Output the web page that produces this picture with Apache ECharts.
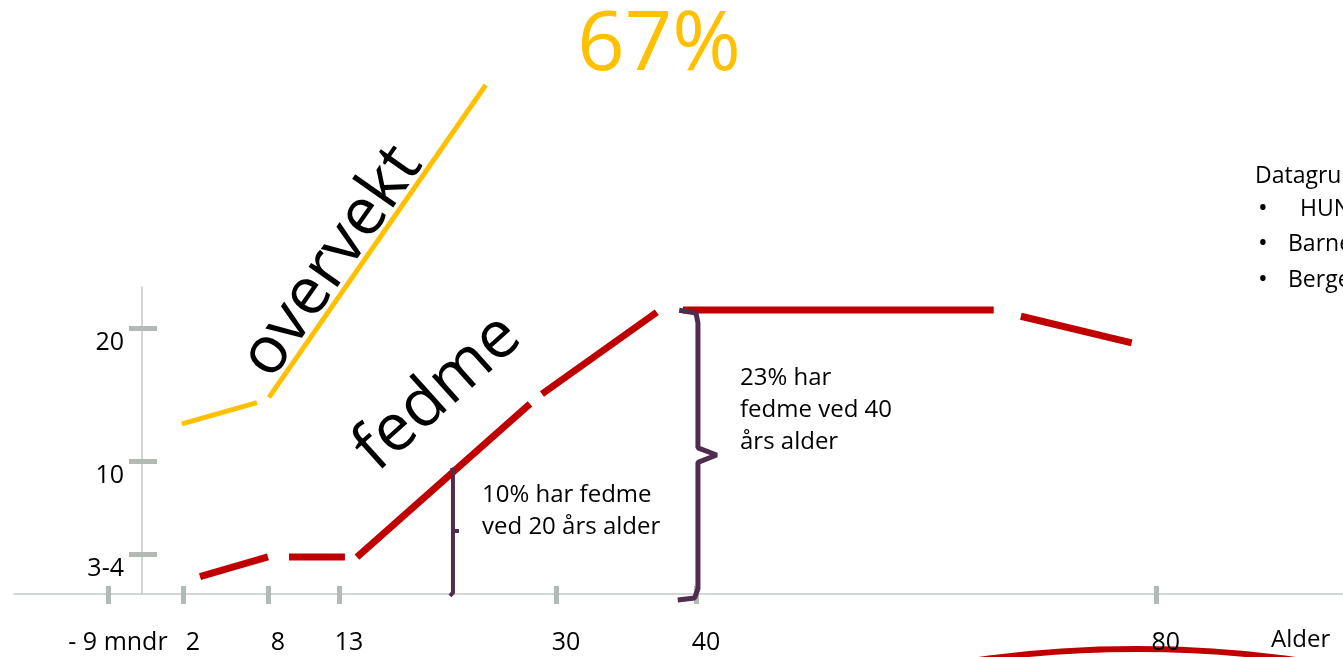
<!DOCTYPE html>
<html>
<head>
<meta charset="utf-8">
<script src="https://cdn.jsdelivr.net/npm/echarts@6/dist/echarts.min.js"></script>
<style>
  html, body { margin: 0; padding: 0; background: #fff; }
  #chart { width: 1343px; height: 657px; }
</style>
</head>
<body>
<div id="chart"></div>
<script>
// bottom axis: ages and their labels (the drawn axis is not linear in age)
const tickAges = [-0.75, 2, 8, 13, 30, 40, 80];
const tickLabels = ["- 9 mndr", "2", "8", "13", "30", "40", "80"];
// left axis: percent
const yTickValues = [3, 10, 20];
const yTickLabels = ["3-4", "10", "20"];

// [age, percent], null = gap in the line
const overvekt = [[1.95, 12.8], [7.22, 14.4], null, [8.07, 14.8], [24.5, 38.3]];
const fedme = [
  [3.2, 1.3], [8, 2.8], null,
  [9.48, 2.78], [13.47, 2.78], null,
  [14.41, 2.78], [27.96, 14.3], null,
  [28.9, 15.05], [37.2, 21.2], null,
  [39.07, 21.37], [65.9, 21.37], null,
  [68.26, 20.9], [77.9, 18.9],
];
// curly braces for the annotations
const brace20 = [[21.85, 9.5], [21.93, 9.2], [21.93, 4.74], [22.4, 4.74], [21.93, 4.74], [21.93, 0.1], [21.7, -0.15]];
const brace40 = [
  [38.8, 21.35], [40.0, 21.15], [40.17, 20.4], [40.17, 11.0], [41.8, 10.46],
  [40.17, 9.9], [40.17, 0.4], [39.9, -0.3], [38.7, -0.45],
];

// age -> position on the drawn axis (piecewise, as in the schematic)
const ageAnchors = [-0.75, 0, 2, 8, 13, 30, 40, 80];
const slotAnchors = [-2.62, 0, 3.15, 9.69, 15.15, 31.85, 42.62, 78.0];
const toSlot = (age) => {
  let i = 0;
  while (i < ageAnchors.length - 2 && age > ageAnchors[i + 1]) i++;
  const a0 = ageAnchors[i], a1 = ageAnchors[i + 1];
  const s0 = slotAnchors[i], s1 = slotAnchors[i + 1];
  return s0 + ((age - a0) / (a1 - a0)) * (s1 - s0);
};
const tickSlots = tickAges.map(toSlot);

const splitSegments = (pts) => {
  const segs = [[]];
  pts.forEach((p) => {
    if (p === null) segs.push([]);
    else segs[segs.length - 1].push([toSlot(p[0]), p[1]]);
  });
  return segs;
};

const FONT = "Open Sans";
const axisGray = "#c3c9c6";
const tickGray = "#b2bab6";
const purple = "#512d4d";
// the y axis sits at age 0, inside the grid
const yAxisOffset = -128;

const lineSeries = (segs, color, width) =>
  segs.map((seg) => ({
    type: "line",
    data: seg,
    symbol: "none",
    clip: false,
    silent: true,
    lineStyle: { color, width, cap: "butt" },
    z: 3,
  }));

const series = [
  ...lineSeries(splitSegments(overvekt), "#FFC000", 5),
  ...lineSeries(splitSegments(fedme), "#C00000", 7),
  ...lineSeries(splitSegments(brace20), purple, 4),
  ...lineSeries(splitSegments(brace40), purple, 5),
];

const nearestLabel = (v) => {
  let best = 0;
  tickSlots.forEach((s, i) => {
    if (Math.abs(s - v) < Math.abs(tickSlots[best] - v)) best = i;
  });
  return tickLabels[best];
};
const yLabel = (v) => yTickLabels[yTickValues.indexOf(v)] ?? "";

const textEl = (x, y, text, size, extra = {}) => ({
  type: "text",
  x,
  y,
  style: { text, font: `${size}px "${FONT}"`, fill: "#000", verticalAlign: "middle", ...extra },
});

const chart = echarts.init(document.getElementById("chart"));
chart.setOption({
  animation: false,
  backgroundColor: "#ffffff",
  textStyle: { fontFamily: FONT },
  grid: { left: 14, right: 0, top: 287, bottom: 63, containLabel: false, outerBoundsMode: "none" },
  xAxis: [
    {
      type: "value",
      min: -9.85,
      max: 92.4,
      position: "bottom",
      axisLine: { show: true, onZero: false, lineStyle: { color: axisGray, width: 1.5 } },
      axisTick: { show: true, customValues: tickSlots, length: 10, lineStyle: { color: tickGray, width: 5 } },
      axisLabel: {
        customValues: tickSlots,
        formatter: nearestLabel,
        margin: 36,
        fontSize: 25,
        color: "#000",
        fontFamily: FONT,
        padding: [0, 0, 0, 20],
      },
      splitLine: { show: false },
    },
    {
      type: "value",
      min: -9.85,
      max: 92.4,
      position: "bottom",
      axisLine: { show: false, onZero: false },
      axisTick: { show: true, inside: true, customValues: tickSlots, length: 8, lineStyle: { color: tickGray, width: 5 } },
      axisLabel: { show: false },
      splitLine: { show: false },
    },
  ],
  yAxis: [
    {
      type: "value",
      min: 0,
      max: 23.1,
      position: "left",
      offset: yAxisOffset,
      axisLine: { show: true, onZero: false, lineStyle: { color: axisGray, width: 1.5 } },
      axisTick: { show: true, customValues: yTickValues, length: 13, lineStyle: { color: tickGray, width: 5 } },
      axisLabel: {
        customValues: yTickValues,
        formatter: yLabel,
        margin: 18,
        fontSize: 25,
        lineHeight: 30,
        color: "#000",
        fontFamily: FONT,
        verticalAlign: "top",
      },
      splitLine: { show: false },
    },
    {
      type: "value",
      min: 0,
      max: 23.1,
      position: "left",
      offset: yAxisOffset,
      axisLine: { show: false, onZero: false },
      axisTick: { show: true, inside: true, customValues: yTickValues, length: 15, lineStyle: { color: tickGray, width: 5 } },
      axisLabel: { show: false },
      splitLine: { show: false },
    },
  ],
  series,
  graphic: [
    textEl(659, 46, "67%", 83, { fill: "#FFC000", align: "center" }),
    { ...textEl(332, 262, "overvekt", 66, { align: "center" }), rotation: (55 * Math.PI) / 180 },
    { ...textEl(438, 393, "fedme", 66, { align: "center" }), rotation: (42 * Math.PI) / 180 },
    textEl(482, 479, "10% har fedme\nved 20 års alder", 24, { lineHeight: 32, verticalAlign: "top" }),
    textEl(740, 362, "23% har\nfedme ved 40\nårs alder", 24, { lineHeight: 32, verticalAlign: "top" }),
    textEl(1271, 640, "Alder", 24),
    textEl(1255, 176, "Datagrunnlag", 23),
    textEl(1258, 209, "•", 26),
    textEl(1258, 244, "•", 26),
    textEl(1258, 280, "•", 26),
    textEl(1300, 209, "HUNT", 23),
    textEl(1288, 244, "Barnevekst", 23),
    textEl(1288, 280, "Bergensstudien", 23),
    {
      type: "ellipse",
      shape: { cx: 1137, cy: 770, rx: 380, ry: 121 },
      style: { fill: "none", stroke: "#C00000", lineWidth: 6 },
    },
  ],
});

window.addEventListener("resize", () => chart.resize());
</script>
</body>
</html>
